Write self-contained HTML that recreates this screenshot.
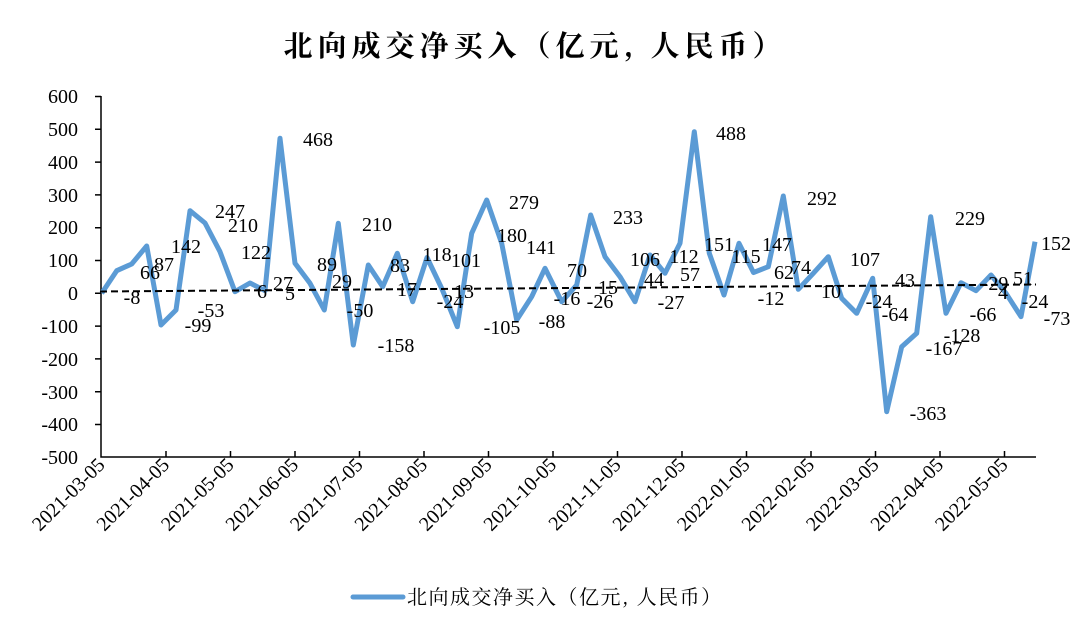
<!DOCTYPE html>
<html><head><meta charset="utf-8"><style>
body{margin:0;background:#fff;}
svg text{font-family:"Liberation Serif","Noto Serif CJK SC",serif;fill:#000;}
</style></head><body>
<svg width="1080" height="631" viewBox="0 0 1080 631" xmlns="http://www.w3.org/2000/svg">
<text x="535" y="56" text-anchor="middle" style="font-family:'Noto Serif CJK SC',serif;font-size:29px;font-weight:bold;letter-spacing:5px">北向成交净买入（亿元, 人民币）</text>
<g font-size="20" text-anchor="end">
<text x="78" y="103">600</text><text x="78" y="136">500</text><text x="78" y="169">400</text><text x="78" y="202">300</text><text x="78" y="234">200</text><text x="78" y="267">100</text><text x="78" y="300">0</text><text x="78" y="333">-100</text><text x="78" y="366">-200</text><text x="78" y="399">-300</text><text x="78" y="431">-400</text><text x="78" y="464">-500</text>
</g>
<g stroke="#000" stroke-width="1.5" fill="none">
<path d="M101,96V457H1036"/>
<path d="M95,96.5H101M95,129.3H101M95,162.1H101M95,194.9H101M95,227.7H101M95,260.5H101M95,293.3H101M95,326.1H101M95,358.9H101M95,391.7H101M95,424.5H101"/>
<path d="M166,457V451M230.5,457V451M295,457V451M359.5,457V451M424,457V451M488.5,457V451M553,457V451M617.5,457V451M682,457V451M746.5,457V451M811,457V451M875.5,457V451M940,457V451M1004.5,457V451"/>
</g>
<g font-size="20" text-anchor="end">
<text transform="translate(106,466) rotate(-45)">2021-03-05</text>
<text transform="translate(170.5,466) rotate(-45)">2021-04-05</text>
<text transform="translate(235,466) rotate(-45)">2021-05-05</text>
<text transform="translate(299.5,466) rotate(-45)">2021-06-05</text>
<text transform="translate(364,466) rotate(-45)">2021-07-05</text>
<text transform="translate(428.5,466) rotate(-45)">2021-08-05</text>
<text transform="translate(493,466) rotate(-45)">2021-09-05</text>
<text transform="translate(557.5,466) rotate(-45)">2021-10-05</text>
<text transform="translate(622,466) rotate(-45)">2021-11-05</text>
<text transform="translate(686.5,466) rotate(-45)">2021-12-05</text>
<text transform="translate(751,466) rotate(-45)">2022-01-05</text>
<text transform="translate(815.5,466) rotate(-45)">2022-02-05</text>
<text transform="translate(880,466) rotate(-45)">2022-03-05</text>
<text transform="translate(944.5,466) rotate(-45)">2022-04-05</text>
<text transform="translate(1009,466) rotate(-45)">2022-05-05</text>
</g>
<polyline fill="none" stroke="#5b9bd5" stroke-width="5" stroke-linejoin="round" points="101.7,293.3 116.7,270.7 131.7,264 146.7,246 161,325 176,310 190,210.7 205,223 220,251.7 235,291.7 250,283 265,290.7 280,138.3 295,263.3 310,283.3 324.3,310 338.3,223.3 353.3,345 368.3,265 382.7,286.7 397.3,253.3 412.7,301.7 427,257.5 442,289 457.3,326.7 471.7,233.3 486.7,200 501.7,243.3 516.7,320 531.7,296.7 545,268.3 561.7,301.7 576.7,285 590.7,215 605,256.7 620,276.7 635,301.7 650,255 665,273.3 680,243.3 694.3,131.7 709.3,253.3 724,295 739,243.3 753.5,272.5 768.3,266.7 783.3,196 798.3,289.3 813.3,273.3 828.3,256.7 841.7,298.3 856.7,313.3 872.7,278.3 886.7,411.7 901.7,346.7 916.7,333.3 930.7,216.7 946,313.3 961,282.7 976,290.7 991,275 1006,293.3 1021,316.7 1035,241.7"/>
<line x1="100" y1="291.5" x2="1036" y2="284.5" stroke="#000" stroke-width="2" stroke-dasharray="7,4"/>
<g font-size="20" text-anchor="middle" dominant-baseline="central">
<text x="132" y="298">-8</text><text x="150" y="273">66</text><text x="164" y="265">87</text><text x="186" y="247">142</text><text x="198" y="326">-99</text><text x="211" y="311">-53</text><text x="230" y="212">247</text><text x="243" y="226">210</text><text x="256" y="253">122</text><text x="262" y="292">6</text><text x="283" y="284">27</text><text x="290" y="294">5</text><text x="318" y="140">468</text><text x="327" y="265">89</text><text x="342" y="282">29</text><text x="360" y="311">-50</text><text x="396" y="346">-158</text><text x="377" y="225">210</text><text x="400" y="266">83</text><text x="407" y="290">17</text><text x="437" y="255">118</text><text x="450" y="302">-24</text><text x="466" y="261">101</text><text x="464" y="292">13</text><text x="524" y="203">279</text><text x="512" y="236">180</text><text x="502" y="328">-105</text><text x="541" y="248">141</text><text x="552" y="322">-88</text><text x="577" y="271">70</text><text x="567" y="299">-16</text><text x="600" y="302">-26</text><text x="608" y="288">15</text><text x="628" y="218">233</text><text x="645" y="260">106</text><text x="654" y="280">44</text><text x="671" y="303">-27</text><text x="684" y="257">112</text><text x="690" y="275">57</text><text x="731" y="134">488</text><text x="719" y="245">151</text><text x="746" y="257">115</text><text x="771" y="299">-12</text><text x="777" y="245">147</text><text x="784" y="273">62</text><text x="801" y="268">74</text><text x="822" y="199">292</text><text x="831" y="292">10</text><text x="865" y="260">107</text><text x="879" y="302">-24</text><text x="895" y="315">-64</text><text x="905" y="281">43</text><text x="928" y="414">-363</text><text x="970" y="219">229</text><text x="944" y="349">-167</text><text x="962" y="336">-128</text><text x="983" y="315">-66</text><text x="995" y="284">-29</text><text x="1003" y="293">4</text><text x="1023" y="279">51</text><text x="1035" y="302">-24</text><text x="1057" y="319">-73</text><text x="1056" y="244">152</text>
</g>
<line x1="353" y1="597" x2="403" y2="597" stroke="#5b9bd5" stroke-width="5" stroke-linecap="round"/>
<text x="407" y="604" style="font-family:'Noto Serif CJK SC',serif;font-size:20px;letter-spacing:1.5px">北向成交净买入（亿元, 人民币）</text>
</svg>
</body></html>
